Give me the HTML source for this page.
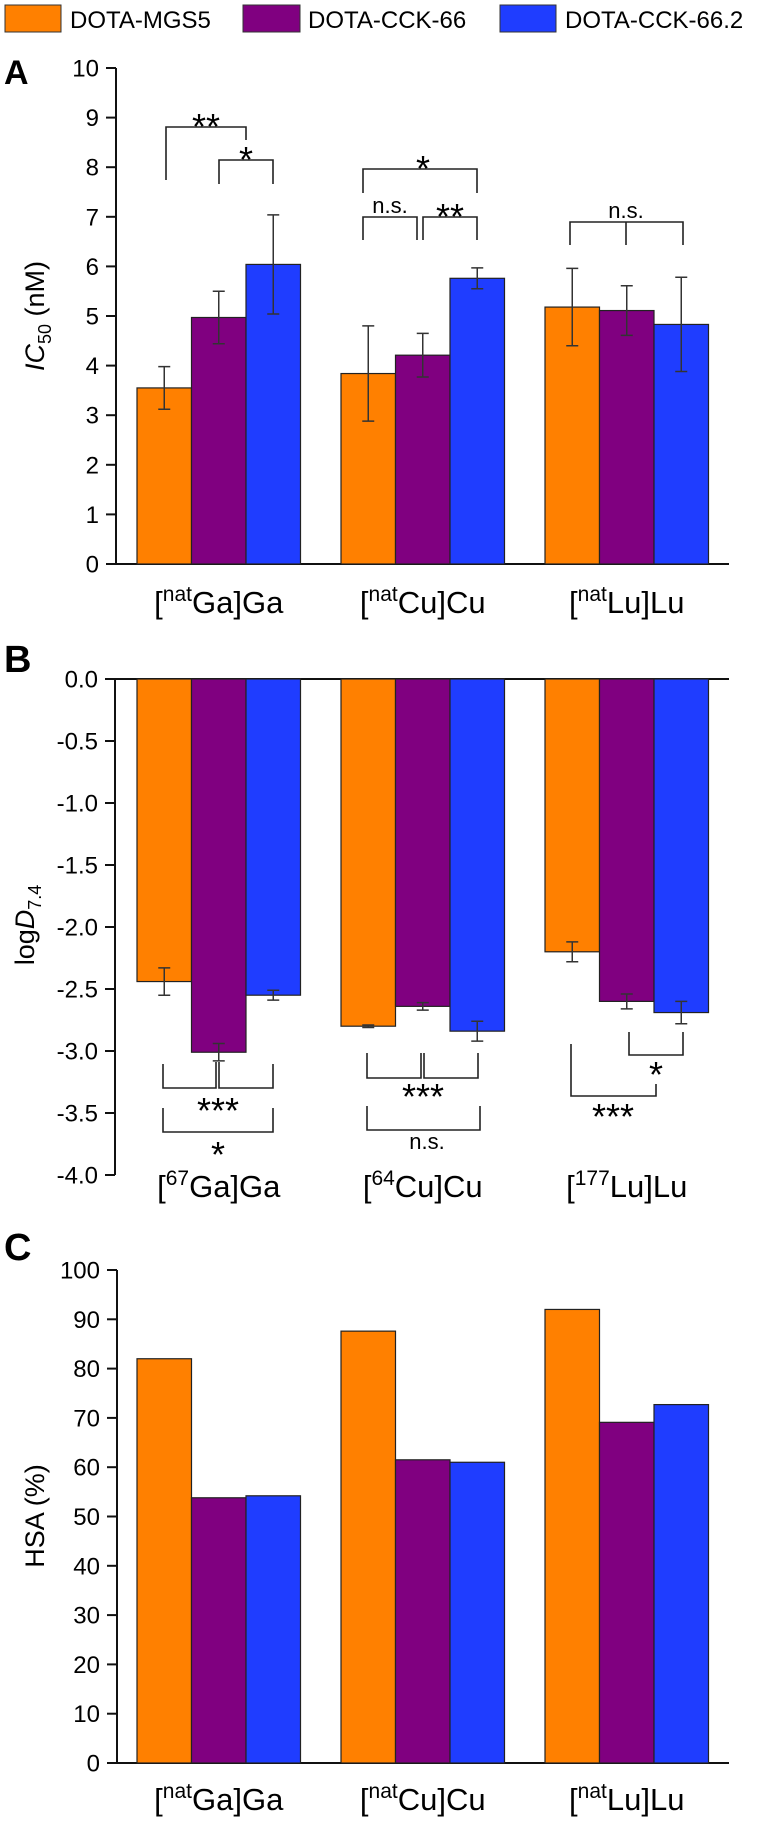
<!DOCTYPE html>
<html><head><meta charset="utf-8"><style>
html,body{margin:0;padding:0;background:#fff;}
svg{display:block;font-family:"Liberation Sans",Arial,sans-serif;}
</style></head><body>
<svg id="chart" width="761" height="1822" viewBox="0 0 761 1822">
<g id="legend">
<rect x="5" y="5" width="56" height="27" fill="#ff8000" stroke="#333" stroke-width="1"/>
<text x="70" y="28" font-size="24">DOTA-MGS5</text>
<rect x="243" y="5" width="57" height="27" fill="#800080" stroke="#333" stroke-width="1"/>
<text x="308" y="28" font-size="24">DOTA-CCK-66</text>
<rect x="500" y="5" width="56" height="27" fill="#1f3dff" stroke="#333" stroke-width="1"/>
<text x="565" y="28" font-size="24">DOTA-CCK-66.2</text>
</g>
<text x="4" y="84" font-size="34" font-weight="bold">A</text>
<text x="4" y="672" font-size="38" font-weight="bold">B</text>
<text x="4" y="1260" font-size="38" font-weight="bold">C</text>
<g id="pa"></g>
<g id="pb"></g>
<g id="pc"></g>

<g id="ann" fill="none" stroke="#222" stroke-width="1.6">
<path d="M166,180 V127 H246 V140"/>
<path d="M219,184 V160 H273 V184"/>
<path d="M363,193 V169 H477 V193"/>
<path d="M363,240 V217 H417 V240"/>
<path d="M423,240 V217 H477 V240"/>
<path d="M570,245 V222 H683 V245 M626,222 V245"/>
<path d="M163,1064 V1088 H216 V1062 M219,1062 V1088 H273 V1064"/>
<path d="M163,1108 V1132 H273 V1108"/>
<path d="M367,1053 V1078 H421 V1053 M424,1053 V1078 H478 V1053"/>
<path d="M367,1106 V1130 H480 V1106"/>
<path d="M629,1032 V1055 H683 V1032"/>
<path d="M571,1044 V1096 H656 V1084"/>
</g>
<g font-size="36" text-anchor="middle">
<text x="206" y="139">**</text>
<text x="246" y="172">*</text>
<text x="423" y="181">*</text>
<text x="390" y="213" font-size="22">n.s.</text>
<text x="450" y="229">**</text>
<text x="626" y="218" font-size="22">n.s.</text>
<text x="218" y="1123">***</text>
<text x="218" y="1167">*</text>
<text x="423" y="1109">***</text>
<text x="427" y="1149" font-size="22">n.s.</text>
<text x="656" y="1087">*</text>
<text x="613" y="1129">***</text>
</g>
</svg>
<script>
const colors = ["#ff8000", "#800080", "#1f3dff"];
const seriesNames = ["DOTA-MGS5", "DOTA-CCK-66", "DOTA-CCK-66.2"];
const catsA = ["Ga", "Cu", "Lu"];
const supA = ["nat", "nat", "nat"];
const supB = ["67", "64", "177"];
const icMGS5 = [3.55, 3.84, 5.18];
const icCCK66 = [4.97, 4.21, 5.11];
const icCCK662 = [6.04, 5.76, 4.83];
const icErrMGS5 = [0.43, 0.96, 0.78];
const icErrCCK66 = [0.53, 0.44, 0.50];
const icErrCCK662 = [1.0, 0.21, 0.95];
const logdMGS5 = [-2.44, -2.80, -2.20];
const logdCCK66 = [-3.01, -2.64, -2.60];
const logdCCK662 = [-2.55, -2.84, -2.69];
const logdErrMGS5 = [0.11, 0.01, 0.08];
const logdErrCCK66 = [0.07, 0.03, 0.06];
const logdErrCCK662 = [0.04, 0.08, 0.09];
const hsaMGS5 = [82.0, 87.6, 92.0];
const hsaCCK66 = [53.8, 61.5, 69.1];
const hsaCCK662 = [54.2, 61.0, 72.7];
const ticksA = [0,1,2,3,4,5,6,7,8,9,10];
const ticksB = ["0.0","-0.5","-1.0","-1.5","-2.0","-2.5","-3.0","-3.5","-4.0"];
const ticksC = [0,10,20,30,40,50,60,70,80,90,100];

const NS = "http://www.w3.org/2000/svg";
function mk(parent, tag, attrs, text) {
  const e = document.createElementNS(NS, tag);
  for (const k in attrs) e.setAttribute(k, attrs[k]);
  if (text !== undefined) e.textContent = text;
  parent.appendChild(e);
  return e;
}
const BW = 54.5;
function barX(g, i) { return 137 + g * 204 + i * BW; }

function drawPanel(gid, cfg) {
  const g = document.getElementById(gid);
  const ax = mk(g, "line", {x1: cfg.ax, x2: cfg.ax, y1: cfg.yTop, y2: cfg.yBot, stroke: "#111", "stroke-width": 2});
  
  
  const xl = mk(g, "line", {x1: cfg.ax - 10, x2: 729, y1: cfg.y(cfg.base), y2: cfg.y(cfg.base), stroke: "#111", "stroke-width": 2});
  
  
  cfg.ticks.forEach(t => {
    const yy = cfg.y(parseFloat(t));
    const tk = mk(g, "line", {x1: cfg.ax - 10, x2: cfg.ax, y1: yy, y2: yy, stroke: "#111", "stroke-width": 2});
    
    
    const tl = mk(g, "text", {x: cfg.ax - 17, y: yy + 8.5, "font-size": 24, "text-anchor": "end"}, String(t));
    
    
  });
  cfg.series.forEach((vals, i) => {
    vals.forEach((v, gi) => {
      const x = barX(gi, i);
      const y0 = cfg.y(cfg.base), y1 = cfg.y(v);
      const r = mk(g, "rect", {x: x, y: Math.min(y0, y1), width: BW, height: Math.abs(y1 - y0), fill: colors[i], stroke: "#222", "stroke-width": 1.2});
      
      
      if (cfg.errs) {
        const e = cfg.errs[i][gi], cx = x + BW / 2;
        const ya = cfg.y(v + e), yb = cfg.y(v - e);
        const eb = mk(g, "path", {d: `M${cx},${ya} V${yb} M${cx-6},${ya} H${cx+6} M${cx-6},${yb} H${cx+6}`, stroke: "#333", "stroke-width": 1.5, fill: "none"});
        
        
      }
    });
  });
  catsA.forEach((c, gi) => {
    const cx = barX(gi, 1) + BW / 2;
    const t = mk(g, "text", {x: cx, y: cfg.labY, "font-size": 31, "text-anchor": "middle"});
    
    
    mk(t, "tspan", {}, "[");
    mk(t, "tspan", {"font-size": 21, dy: -12}, cfg.sups[gi]);
    mk(t, "tspan", {dy: 12}, c + "]" + c);
  });
  const yt = mk(g, "text", {x: 0, y: 0, "font-size": 27, "text-anchor": "middle", transform: `translate(${cfg.titleX},${cfg.titleY}) rotate(-90)`});
  
  
  cfg.title(yt);
}

const yA = v => 564 - v * 49.6;
const yB = v => 679 - v * 124;
const yC = v => 1763 - v * 4.93;

drawPanel("pa", {ax: 116, yTop: 68, yBot: 564, y: yA, base: 0, ticks: ticksA,
  series: [icMGS5, icCCK66, icCCK662], errs: [icErrMGS5, icErrCCK66, icErrCCK662],
  labY: 613, sups: supA, titleX: 44, titleY: 316,
  title: t => { mk(t, "tspan", {"font-style": "italic"}, "IC"); mk(t, "tspan", {"font-size": 18, dy: 7}, "50"); mk(t, "tspan", {dy: -7}, " (nM)"); }});
drawPanel("pb", {ax: 115, yTop: 679, yBot: 1175, y: yB, base: 0, ticks: ticksB,
  series: [logdMGS5, logdCCK66, logdCCK662], errs: [logdErrMGS5, logdErrCCK66, logdErrCCK662],
  labY: 1197, sups: supB, titleX: 34, titleY: 925,
  title: t => { mk(t, "tspan", {}, "log"); mk(t, "tspan", {"font-style": "italic"}, "D"); mk(t, "tspan", {"font-size": 18, dy: 7}, "7.4"); }});
drawPanel("pc", {ax: 117, yTop: 1270, yBot: 1763, y: yC, base: 0, ticks: ticksC,
  series: [hsaMGS5, hsaCCK66, hsaCCK662], errs: null,
  labY: 1810, sups: supA, titleX: 44, titleY: 1516,
  title: t => { t.textContent = "HSA (%)"; }});
</script>
</body></html>
